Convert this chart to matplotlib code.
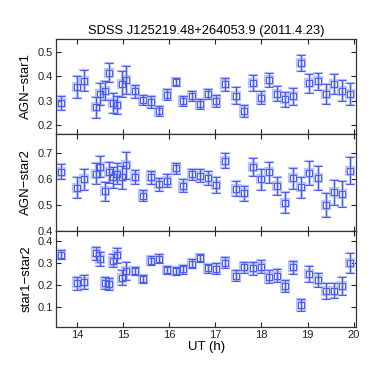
import matplotlib
matplotlib.use("Agg")
import matplotlib.pyplot as plt

plt.rcParams['font.family'] = ['Liberation Sans', 'DejaVu Sans']

ut = [13.65, 14.00, 14.16, 14.42, 14.50, 14.60, 14.69, 14.79, 14.88, 14.98,
      15.06, 15.26, 15.44, 15.61, 15.79, 15.96, 16.14, 16.31, 16.49, 16.67,
      16.85, 17.02, 17.20, 17.45, 17.63, 17.81, 17.98, 18.16, 18.33, 18.51,
      18.69, 18.86, 19.04, 19.22, 19.40, 19.57, 19.75, 19.92]

agn_star1 = [0.290, 0.356, 0.382, 0.273, 0.328, 0.342, 0.416, 0.292, 0.283, 0.369,
             0.387, 0.338, 0.303, 0.296, 0.259, 0.325, 0.378, 0.299, 0.320, 0.287,
             0.327, 0.298, 0.367, 0.321, 0.259, 0.371, 0.313, 0.386, 0.329, 0.306,
             0.318, 0.457, 0.372, 0.380, 0.327, 0.369, 0.342, 0.328]
agn_star1_err = [0.028, 0.045, 0.043, 0.043, 0.045, 0.040, 0.038, 0.041, 0.038, 0.052,
                 0.058, 0.028, 0.020, 0.025, 0.020, 0.022, 0.017, 0.020, 0.020, 0.020,
                 0.022, 0.025, 0.025, 0.035, 0.025, 0.033, 0.025, 0.030, 0.030, 0.030,
                 0.035, 0.033, 0.040, 0.035, 0.040, 0.040, 0.045, 0.045]

agn_star2 = [0.629, 0.568, 0.599, 0.621, 0.649, 0.554, 0.626, 0.608, 0.621, 0.608,
             0.654, 0.608, 0.536, 0.608, 0.581, 0.595, 0.642, 0.574, 0.619, 0.614,
             0.604, 0.577, 0.672, 0.564, 0.545, 0.647, 0.599, 0.627, 0.574, 0.509,
             0.603, 0.569, 0.624, 0.605, 0.501, 0.549, 0.544, 0.632]
agn_star2_err = [0.028, 0.040, 0.040, 0.040, 0.040, 0.037, 0.040, 0.040, 0.040, 0.045,
                 0.052, 0.028, 0.022, 0.025, 0.025, 0.025, 0.022, 0.025, 0.022, 0.025,
                 0.027, 0.030, 0.030, 0.030, 0.030, 0.035, 0.040, 0.040, 0.035, 0.040,
                 0.040, 0.040, 0.047, 0.045, 0.047, 0.048, 0.050, 0.052]

star1_star2 = [0.339, 0.209, 0.215, 0.345, 0.320, 0.212, 0.206, 0.312, 0.336, 0.235,
               0.264, 0.267, 0.229, 0.311, 0.321, 0.270, 0.265, 0.273, 0.298, 0.324,
               0.277, 0.276, 0.303, 0.244, 0.283, 0.277, 0.285, 0.239, 0.244, 0.198,
               0.282, 0.109, 0.252, 0.223, 0.173, 0.176, 0.198, 0.303]
star1_star2_err = [0.020, 0.030, 0.030, 0.030, 0.030, 0.028, 0.028, 0.030, 0.035, 0.035,
                   0.040, 0.018, 0.018, 0.020, 0.020, 0.020, 0.020, 0.020, 0.020, 0.020,
                   0.022, 0.025, 0.025, 0.025, 0.025, 0.028, 0.028, 0.030, 0.028, 0.028,
                   0.030, 0.028, 0.035, 0.032, 0.037, 0.035, 0.040, 0.045]

panels = [
    ("AGN\u2212star1", agn_star1, agn_star1_err, (0.163, 0.556), [0.2, 0.3, 0.4, 0.5]),
    ("AGN\u2212star2", agn_star2, agn_star2_err, (0.400, 0.775), [0.4, 0.5, 0.6, 0.7]),
    ("star1\u2212star2", star1_star2, star1_star2_err, (0.009, 0.447), [0.1, 0.2, 0.3, 0.4]),
]

title = "SDSS J125219.48+264053.9 (2011.4.23)"
xticks = [14, 15, 16, 17, 18, 19, 20]

fig = plt.figure(figsize=(3.74, 3.86), dpi=100)
left, width = 0.150, 0.802
bounds = [(0.653, 0.247), (0.4016, 0.2514), (0.152, 0.2496)]

dark = '#4a5cf0'
light = '#bcc3f8'

for i, ((lab, y, e, ylim, yt), (b, h)) in enumerate(zip(panels, bounds)):
    ax = fig.add_axes([left, b, width, h])
    ax.errorbar(ut, y, yerr=e, fmt='s', ms=5.3, mfc='none', mec=light, mew=1.6,
                ecolor=light, elinewidth=2.0, capsize=3.5, capthick=1.6, zorder=2)
    ax.errorbar(ut, y, yerr=e, fmt='s', ms=4.1, mfc='none', mec=dark, mew=0.8,
                ecolor=dark, elinewidth=0.8, capsize=3, capthick=0.8, zorder=3)
    ax.set_xlim(13.55, 20.05)
    ax.set_ylim(*ylim)
    ax.set_yticks(yt)
    ax.set_yticklabels([f"{v:.1f}" for v in yt])
    ax.set_xticks(xticks)
    ax.tick_params(direction='in', top=True, right=True, length=3.5, width=0.8,
                   labelsize=8, pad=2, colors='#222222')
    for sp in ax.spines.values():
        sp.set_color('#333333')
        sp.set_linewidth(0.9)
    ax.set_ylabel(lab, fontsize=9.5, labelpad=4)
    if i < 2:
        ax.set_xticklabels([])
    else:
        ax.set_xticklabels([str(v) for v in xticks])
        ax.set_xlabel("UT (h)", fontsize=9.5, labelpad=1)
    if i == 0:
        ax.set_title(title, fontsize=9.3, pad=3)

fig.savefig("out.png", dpi=100)
